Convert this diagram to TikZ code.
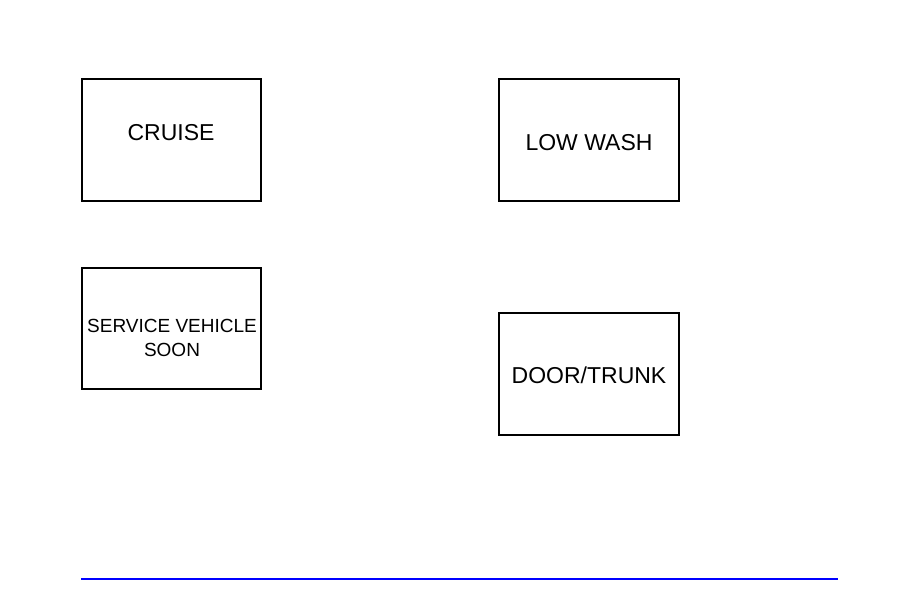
\documentclass[tikz,border=0pt]{standalone}
\usepackage{fontspec}
\setmainfont{Liberation Sans}
\begin{document}
\begin{tikzpicture}[x=1pt,y=-1pt,
  panel/.style={draw=black,line width=1.3pt,fill=white,inner sep=0pt,outer sep=0pt,minimum width=179pt,minimum height=122pt},
  biglbl/.style={anchor=base,inner sep=0pt,font=\fontsize{23}{27}\selectfont},
  smalllbl/.style={anchor=base,inner sep=0pt,font=\fontsize{19}{24}\selectfont}]
\useasboundingbox (0,0) rectangle (918,612);
\node[panel] (cruise) at (171.5,140) {};
\node[panel,minimum height=121pt] (svs) at (171.5,328.5) {};
\node[panel,minimum width=180pt] (lowwash) at (589,140) {};
\node[panel,minimum width=180pt] (door) at (589,374) {};
\node[biglbl] (tcruise) at (171,141) {CRUISE};
\node[smalllbl] (tsvs1) at (172,332) {SERVICE VEHICLE};
\node[smalllbl] (tsvs2) at (172,356) {SOON};
\node[biglbl] (tlow) at (589,151) {LOW WASH};
\node[biglbl] (tdoor) at (589,383) {DOOR/TRUNK};
\coordinate (la) at (81,579);
\coordinate (lb) at (838,579);
\draw[blue,line width=2pt] (la) -- (lb);
\end{tikzpicture}
\end{document}
